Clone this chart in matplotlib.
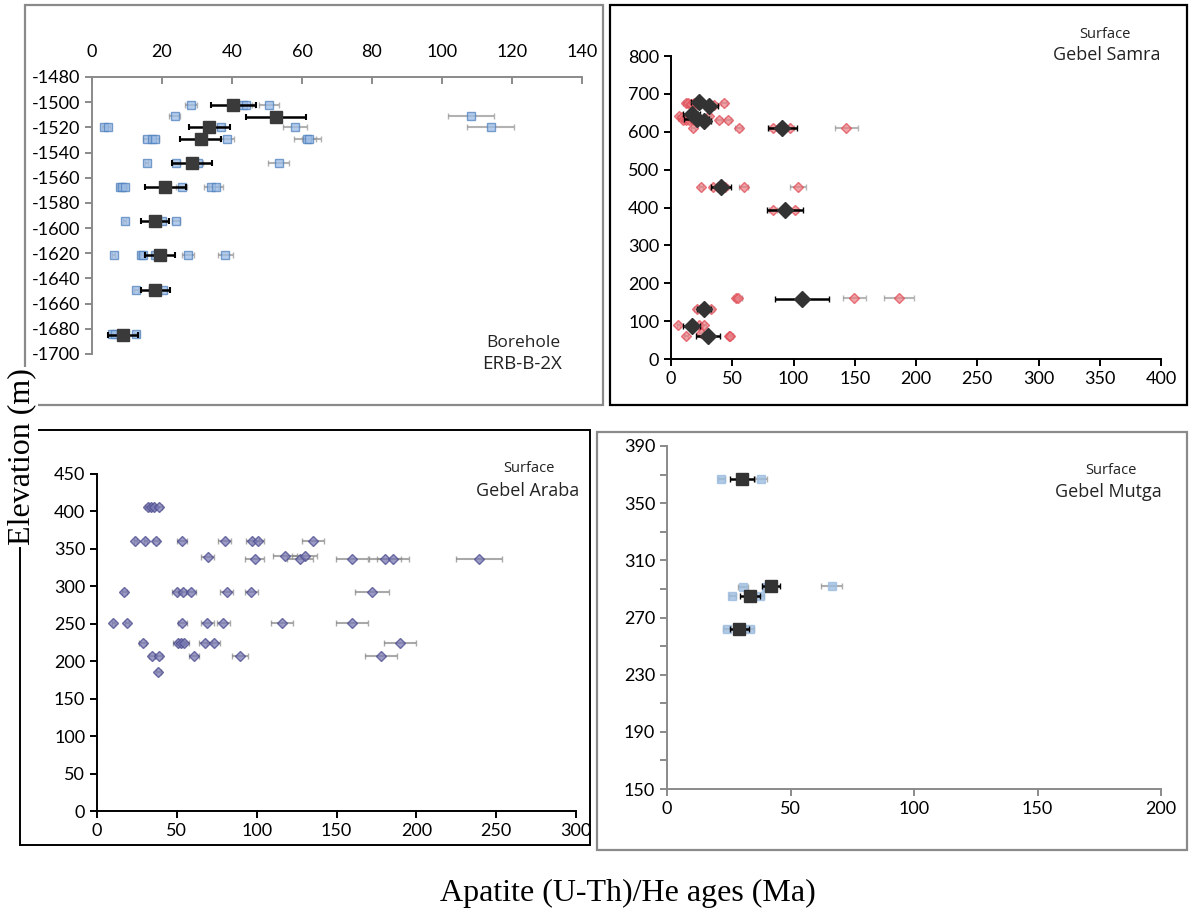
import numpy as np
import matplotlib
matplotlib.use("Agg")
import matplotlib.pyplot as plt
from matplotlib.patches import Rectangle
from matplotlib.ticker import MultipleLocator

plt.rcParams['font.family'] = ['Lato', 'DejaVu Sans']
plt.rcParams['axes.unicode_minus'] = False

# ---- borehole ERB-B-2X (mean ages + single grains)
p1_mean_age = [40.4, 52.5, 33.5, 31.0, 28.5, 20.9, 18.0, 19.4, 18.1, 8.9]
p1_mean_elev = [-1502, -1512, -1520, -1529, -1548, -1567, -1594, -1621, -1649, -1685]
p1_mean_err = [6.4, 8.5, 5.8, 5.8, 5.7, 5.9, 4.0, 4.3, 4.2, 4.2]

p1_age = [28.3, 43.2, 44.1, 50.6, 23.6, 108.3,
          3.5, 4.6, 36.8, 58.1, 113.9,
          15.7, 17.2, 18.1, 38.7, 61.5, 61.9,
          15.6, 24.0, 30.3, 53.4,
          7.9, 8.6, 9.3, 25.6, 34.0, 35.3,
          9.3, 20.0, 24.0,
          6.2, 14.0, 14.5, 18.0, 27.3, 38.1,
          12.5, 17.4, 20.2,
          5.6, 6.5, 12.7]
p1_elev = [-1502, -1502, -1502, -1502, -1511, -1511,
           -1520, -1520, -1520, -1520, -1520,
           -1529, -1529, -1529, -1529, -1529, -1529,
           -1548, -1548, -1548, -1548,
           -1567, -1567, -1567, -1567, -1567, -1567,
           -1594, -1594, -1594,
           -1621, -1621, -1621, -1621, -1621, -1621,
           -1649, -1649, -1649,
           -1684, -1684, -1684]
p1_err = [1.8, 2.5, 2.5, 2.9, 1.5, 6.5,
          0.6, 0.6, 1.0, 3.4, 6.7,
          1.0, 1.0, 1.0, 2.0, 3.8, 2.0,
          0.5, 1.2, 1.5, 3.0,
          0.8, 0.8, 0.8, 1.5, 2.0, 2.0,
          0.4, 1.0, 1.2,
          0.4, 0.8, 0.8, 1.0, 1.7, 2.2,
          0.6, 1.0, 1.2,
          0.5, 0.5, 0.7]

# ---- Gebel Samra
p2_mean_age = [23, 31, 17, 21, 27, 91, 41, 93, 107, 27, 17, 30]
p2_mean_elev = [679, 667, 646, 634, 628, 610, 453, 394, 158, 131, 88, 61]
p2_mean_err = [7, 7, 7, 10, 6, 11.5, 8, 15, 22, 6, 7, 10]

p2_age = [12, 14, 16.5, 19, 21, 35.4, 43.6,
          6.8, 9, 30.8,
          10, 12.5, 15, 18, 22, 39, 46.3,
          18.2, 55.3, 83, 88, 97, 143.2,
          24.5, 34, 38, 44, 59.2, 103.6,
          83.2, 100.9,
          53.2, 55.1, 149.4, 186,
          21, 24.5, 28.6, 32.7,
          6, 23.2, 26.7,
          12.3, 24.5, 47.1, 48]
p2_elev = [675, 675, 674, 675, 672, 670, 675,
           642, 640, 642,
           632, 632, 631, 632, 633, 631, 631,
           611, 611, 611, 611, 611, 611,
           453, 453, 453, 453, 453, 453,
           394, 394,
           161, 161, 161, 161,
           131, 131, 131, 131,
           90, 90, 90,
           61, 68, 61, 61]
p2_err = [2, 2, 2, 2, 2, 2, 2.5,
          1.5, 1.5, 2,
          1.5, 1.5, 1.5, 1.5, 2, 2.5, 2.5,
          1.5, 3, 3, 3, 3, 9.5,
          2, 2, 2, 2.5, 3.5, 6.5,
          3, 3,
          2.5, 2.5, 9.4, 12,
          2, 2, 2, 2,
          1.5, 2, 2,
          1.5, 2, 2.5, 2.5]

# ---- Gebel Araba
p3_age = [31.7, 33.9, 35.5, 38.6,
          24, 30.3, 37, 53.3, 79.9, 97.2, 100.8, 135.3,
          69.4, 117.5, 127.3, 130, 98.7, 159.7, 180.2, 185.5, 239.2,
          17.1, 50.2, 53.7, 59, 81.3, 96.6, 172.3,
          10.2, 18.8, 53.5, 69, 79.2, 116, 159.7,
          28.6, 50.6, 52.7, 54.8, 67.8, 73.2, 190,
          34.3, 38.6, 60.6, 89.7, 178,
          38.5]
p3_elev = [406, 406, 406, 406,
           360, 360, 360, 360, 360, 360, 360, 360,
           339, 340, 336, 341, 336, 336, 336, 336, 336,
           293, 293, 293, 293, 293, 293, 293,
           251, 251, 251, 251, 251, 251, 251,
           225, 225, 225, 225, 225, 225, 225,
           207, 207, 207, 207, 207,
           186]
p3_err = [1.5, 1.5, 1.5, 2,
          1, 1, 2, 3, 4, 4, 4, 7,
          4, 7.5, 8, 8, 6, 10, 10, 10, 14.5,
          1.5, 3, 3, 3, 4, 4, 10.5,
          1, 1, 3, 4, 4, 7, 10,
          2, 3, 3, 3, 4, 4, 10,
          2, 2, 3, 5, 10,
          1.5]

# ---- Gebel Mutga
p4_mean_age = [30.4, 42.1, 33.7, 29.3]
p4_mean_elev = [367, 292, 285, 262]
p4_mean_err = [5, 3.8, 4, 3.9]

p4_age = [22, 37.9, 30.8, 40.2, 66.6, 26.5, 37.6, 24.2, 33.7]
p4_elev = [367, 367, 291, 291, 292, 285, 285, 262, 262]
p4_err = [1.5, 2.4, 2, 1.5, 4.3, 1.5, 1.5, 1.5, 1.5]

W, H = 1189, 915
fig = plt.figure(figsize=(W / 100, H / 100), dpi=100)


def box(x0, x1, ytop, ybot):
    return [x0 / W, 1 - ybot / H, (x1 - x0) / W, (ybot - ytop) / H]


def frame(x0, x1, ytop, ybot, color, lw):
    fig.add_artist(Rectangle((x0 / W, 1 - ybot / H), (x1 - x0) / W, (ybot - ytop) / H,
                             transform=fig.transFigure, fill=False, ec=color, lw=lw))


def label(x, y, s, size):
    fig.text(x / W, 1 - y / H, s, ha='center', va='center', fontsize=size,
             family=['Open Sans', 'DejaVu Sans'], color='#222222')


def style(ax, color, lw):
    for side in ['top', 'right', 'bottom', 'left']:
        ax.spines[side].set_color(color)
        ax.spines[side].set_linewidth(lw)
    ax.tick_params(colors=color, labelcolor='black', labelsize=13, width=lw, length=5)


frame(25, 603, 5, 405, '#8a8a8a', 1.6)
frame(610, 1187, 5, 405, 'black', 1.6)
frame(20, 590, 430, 845, 'black', 1.4)
frame(597, 1187, 432, 850, '#8a8a8a', 1.6)

# panel 1 - borehole
ax1 = fig.add_axes(box(92, 582, 77, 354))
ax1.errorbar(p1_age, p1_elev, xerr=p1_err, fmt='s', ms=5.5, mfc='#9dbde6', mec='#4f81bd',
             alpha=0.75, ecolor='#999999', elinewidth=1.5, capsize=2.5, zorder=2)
ax1.errorbar(p1_mean_age, p1_mean_elev, xerr=p1_mean_err, fmt='s', ms=9, mfc='#3a3a3a',
             mec='#3a3a3a', ecolor='black', elinewidth=1.8, capsize=2.5, capthick=1.5, zorder=3)
ax1.set_xlim(0, 140)
ax1.set_ylim(-1700, -1480)
ax1.xaxis.set_major_locator(MultipleLocator(20))
ax1.yaxis.set_major_locator(MultipleLocator(20))
ax1.xaxis.tick_top()
style(ax1, '#8a8a8a', 1.4)
ax1.spines['right'].set_visible(False)
ax1.spines['bottom'].set_visible(False)
ax1.tick_params(axis='x', direction='in', pad=12)
label(523, 343, 'Borehole', 12.5)
label(522, 364, 'ERB-B-2X', 13.5)

# panel 2 - Gebel Samra
ax2 = fig.add_axes(box(671, 1161, 56, 359))
ax2.errorbar(p2_age, p2_elev, xerr=p2_err, fmt='D', ms=5, mfc='#ec7c83', mec='#e0454f',
             alpha=0.7, ecolor='#999999', elinewidth=1.5, capsize=2.5, zorder=2)
ax2.errorbar(p2_mean_age, p2_mean_elev, xerr=p2_mean_err, fmt='D', ms=8, mfc='#333333',
             mec='#333333', ecolor='black', elinewidth=1.8, capsize=2, zorder=3)
ax2.set_xlim(0, 400)
ax2.set_ylim(0, 800)
ax2.xaxis.set_major_locator(MultipleLocator(50))
ax2.yaxis.set_major_locator(MultipleLocator(100))
style(ax2, 'black', 1.4)
ax2.spines['right'].set_visible(False)
ax2.spines['top'].set_visible(False)
label(1105, 34, 'Surface', 10.5)
label(1107, 55, 'Gebel Samra', 13)

# panel 3 - Gebel Araba
ax3 = fig.add_axes(box(97, 576, 474, 811))
ax3.errorbar(p3_age, p3_elev, xerr=p3_err, fmt='D', ms=5.5, mfc='#7b7bb5', mec='#4b4b8f',
             alpha=0.75, ecolor='#8c8c8c', elinewidth=1.5, capsize=2.5, zorder=2)
ax3.set_xlim(0, 300)
ax3.set_ylim(0, 450)
ax3.xaxis.set_major_locator(MultipleLocator(50))
ax3.yaxis.set_major_locator(MultipleLocator(50))
style(ax3, 'black', 1.4)
ax3.spines['right'].set_visible(False)
ax3.spines['top'].set_visible(False)
label(529, 469, 'Surface', 10.5)
label(528, 491, 'Gebel Araba', 13)

# panel 4 - Gebel Mutga
ax4 = fig.add_axes(box(667, 1161, 446, 789))
ax4.errorbar(p4_age, p4_elev, xerr=p4_err, fmt='s', ms=6, mfc='#9dbde0', mec='#9dbde0',
             alpha=0.8, ecolor='#999999', elinewidth=1.5, capsize=2.5, zorder=2)
ax4.errorbar(p4_mean_age, p4_mean_elev, xerr=p4_mean_err, fmt='s', ms=9, mfc='#333333',
             mec='#333333', ecolor='black', elinewidth=1.8, capsize=2, zorder=3)
ax4.set_xlim(0, 200)
ax4.set_ylim(150, 390)
ax4.xaxis.set_major_locator(MultipleLocator(50))
ax4.set_yticks(np.arange(150, 391, 40))
ax4.set_yticks(np.arange(170, 391, 40), minor=True)
style(ax4, '#8a8a8a', 1.4)
ax4.tick_params(which='minor', colors='#8a8a8a', width=1.4, length=5)
ax4.spines['right'].set_visible(False)
ax4.spines['top'].set_visible(False)
label(1111, 470, 'Surface', 10.5)
label(1108, 492, 'Gebel Mutga', 13)

fig.text(22 / W, 1 - 457 / H, 'Elevation (m)', rotation=90, ha='center', va='center',
         fontsize=23, family=['Liberation Serif', 'DejaVu Serif'],
         bbox=dict(fc='white', ec='none', pad=1))
fig.text(628 / W, 1 - 893 / H, 'Apatite (U-Th)/He ages (Ma)', ha='center', va='center',
         fontsize=23, family=['Liberation Serif', 'DejaVu Serif'])

fig.savefig('out.png', dpi=100)
